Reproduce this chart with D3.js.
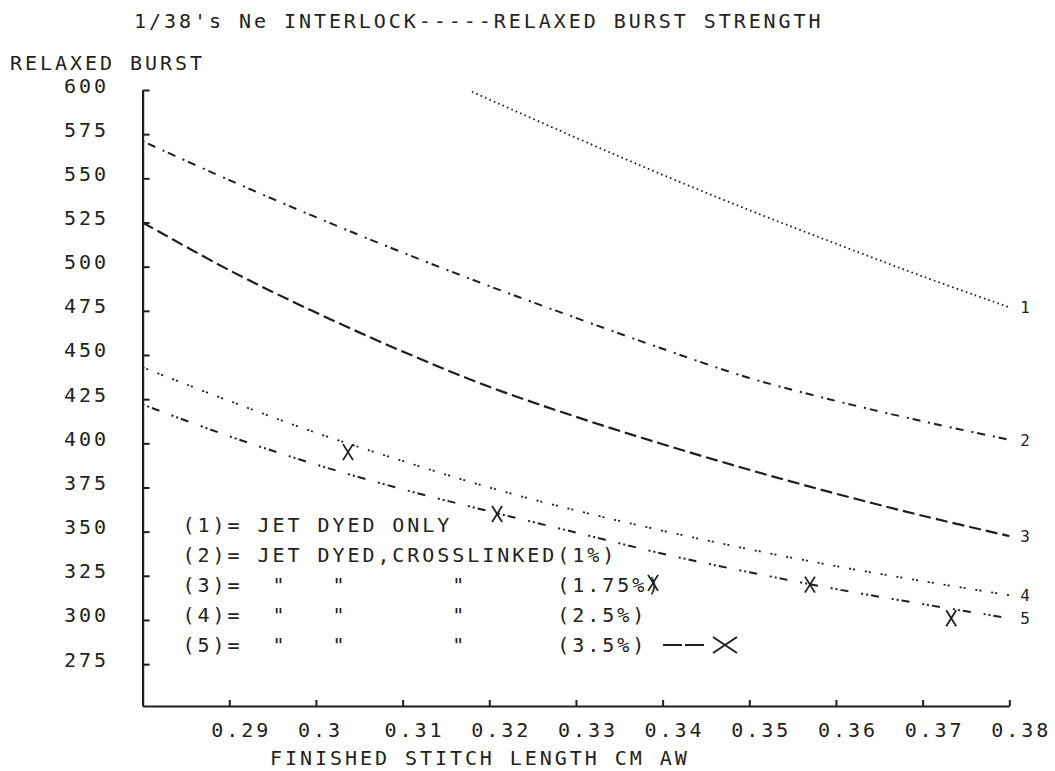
<!DOCTYPE html>
<html>
<head>
<meta charset="utf-8">
<script src="https://cdn.jsdelivr.net/npm/d3@7"></script>
<style>
  html, body { margin: 0; padding: 0; background: #fff; }
  svg { display: block; }
  text { font-family: "DejaVu Sans Mono", "Liberation Mono", monospace; font-size: 20px; letter-spacing: 2.95px; fill: #222; white-space: pre; }
</style>
</head>
<body>
<svg id="chart" width="1055" height="771"></svg>
<script>
// Finished stitch length (cm) at which the fitted curves are tabulated
const stitch = [0.28, 0.29, 0.30, 0.31, 0.32, 0.33, 0.34, 0.35, 0.36, 0.37, 0.38];

// Curve (1) only enters the plotted range at about 0.318
const stitchJet = [0.318, 0.33, 0.34, 0.35, 0.36, 0.37, 0.38];
const burstJet = [599, 573, 552, 532, 513, 494.5, 477];

// Relaxed burst strength, crosslinked at 1%, 1.75%, 2.5% and 3.5%
const burstXl1 = [571, 549, 528, 508, 489, 471, 453.5, 437, 424, 412.5, 402];
const burstXl175 = [525, 498, 474, 452, 432, 415, 399.5, 385, 371.5, 359, 347.5];
const burstXl25 = [443, 424, 406, 390, 375, 362, 350.5, 340, 330.5, 322, 314];
const burstXl35 = [422, 404, 388, 374, 361.5, 349.5, 337.5, 327, 317.5, 309, 301];

// Measured points for the 3.5% treatment
const pointStitch = [0.3037, 0.3209, 0.3389, 0.3570, 0.3733];
const pointBurst = [395, 360, 321, 320, 301];

// Axis ticks
const yTicks = [275, 300, 325, 350, 375, 400, 425, 450, 475, 500, 525, 550, 575, 600];
const xTicks = [0.29, 0.30, 0.31, 0.32, 0.33, 0.34, 0.35, 0.36, 0.37, 0.38];
const xTickLabels = ["0.29", "0.3", "0.31", "0.32", "0.33", "0.34", "0.35", "0.36", "0.37", "0.38"];

// Legend rows
const legendRows = [
  '(1)= JET DYED ONLY',
  '(2)= JET DYED,CROSSLINKED(1%)',
  '(3)=  "   "       "      (1.75%)',
  '(4)=  "   "       "      (2.5%)',
  '(5)=  "   "       "      (3.5%)'
];

const svg = d3.select("#chart");
const ink = "#1e1e1e";
const fs = "20px";

const x = d3.scaleLinear().domain([0.28, 0.38]).range([142.6, 1009.3]);
const y = d3.scaleLinear().domain([251.3, 600]).range([706, 90]);

// Title and axis titles
svg.append("text").attr("x", 134).attr("y", 28)
  .text("1/38's Ne INTERLOCK-----RELAXED BURST STRENGTH");
svg.append("text").attr("x", 10).attr("y", 70).text("RELAXED BURST");
svg.append("text").attr("x", 270).attr("y", 765).text("FINISHED STITCH LENGTH CM AW");

// Y axis, ticks pointing into the plot
const yAxis = svg.append("g").attr("transform", `translate(${x(0.28)},0)`)
  .call(d3.axisLeft(y).tickValues(yTicks).tickSize(-7).tickSizeOuter(0).tickFormat(d3.format("d")));
yAxis.select(".domain").attr("stroke", ink).attr("stroke-width", 2.2);
yAxis.selectAll(".tick line").attr("stroke", ink).attr("stroke-width", 2);
yAxis.selectAll(".tick text")
  .attr("x", 106 + 2.95 - x(0.28)).attr("dy", null).attr("y", 2)
  .attr("text-anchor", "end").attr("font-size", null).attr("font-family", null)
  .style("font-size", fs);

// X axis, ticks pointing up
const xAxis = svg.append("g").attr("transform", `translate(0,${y(251.3)})`)
  .call(d3.axisBottom(x).tickValues(xTicks).tickSize(-6).tickSizeOuter(0)
    .tickFormat((d, i) => xTickLabels[i]));
xAxis.select(".domain").attr("stroke", ink).attr("stroke-width", 2.2);
xAxis.selectAll(".tick line").attr("stroke", ink).attr("stroke-width", 2);
xAxis.selectAll(".tick text")
  .attr("x", -18.5).attr("y", 31).attr("dy", null)
  .attr("text-anchor", "start").attr("font-size", null).attr("font-family", null)
  .style("font-size", fs);

// Curves
const line = d3.line().x(d => x(d[0])).y(d => y(d[1])).curve(d3.curveCatmullRom.alpha(0.5));
const curves = [
  { xs: stitchJet, ys: burstJet, dash: "1.6,3.2", w: 1.8, label: "1" },
  { xs: stitch, ys: burstXl1, dash: "2,4,8,8", w: 2, label: "2" },
  { xs: stitch, ys: burstXl175, dash: "12,5", w: 2.2, label: "3" },
  { xs: stitch, ys: burstXl25, dash: "2,2,2,10", w: 1.8, label: "4" },
  { xs: stitch, ys: burstXl35, dash: "2,3,2,3,8,13", w: 2, label: "5" }
];
curves.forEach(c => {
  const pts = c.xs.map((v, i) => [v, c.ys[i]]);
  svg.append("path").attr("d", line(pts))
    .attr("fill", "none").attr("stroke", ink).attr("stroke-width", c.w)
    .attr("stroke-dasharray", c.dash);
  const last = pts[pts.length - 1];
  svg.append("text").attr("x", x(last[0]) + 11).attr("y", y(last[1]) + 6)
    .style("font-size", "16px").text(c.label);
});

// Measured points drawn as X marks
const xMark = (cx, cy, hw, hh) => `M${cx - hw},${cy - hh}L${cx + hw},${cy + hh}M${cx + hw},${cy - hh}L${cx - hw},${cy + hh}`;
pointStitch.forEach((v, i) => {
  svg.append("path").attr("d", xMark(x(v), y(pointBurst[i]), 5, 8))
    .attr("fill", "none").attr("stroke", ink).attr("stroke-width", 1.8);
});

// Legend
legendRows.forEach((t, i) => {
  svg.append("text").attr("x", 182.5).attr("y", 531.5 + i * 30).text(t);
});
svg.append("line").attr("x1", 663).attr("x2", 707).attr("y1", 645).attr("y2", 645)
  .attr("stroke", ink).attr("stroke-width", 2).attr("stroke-dasharray", "19,3");
svg.append("path").attr("d", xMark(725, 645, 12, 8))
  .attr("fill", "none").attr("stroke", ink).attr("stroke-width", 2);
</script>
</body>
</html>
